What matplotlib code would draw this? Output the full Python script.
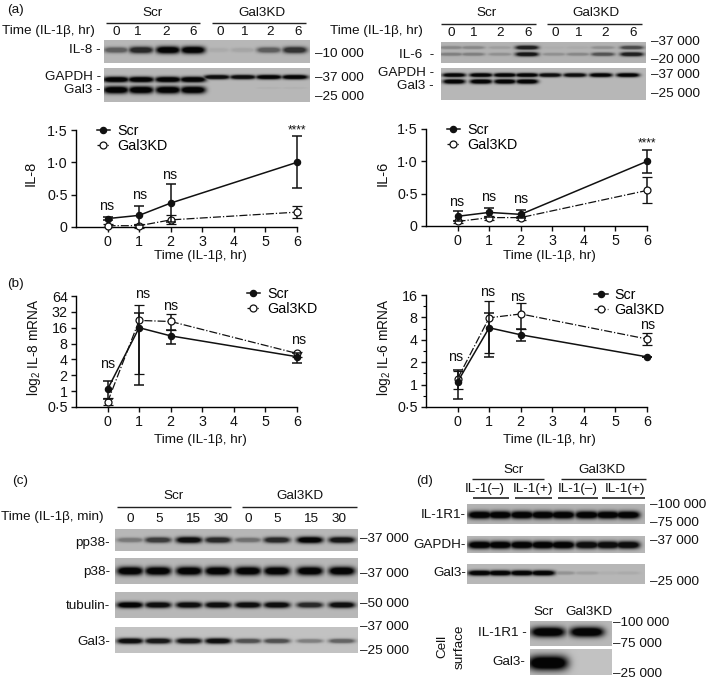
import numpy as np
import matplotlib
matplotlib.use('Agg')
import matplotlib.pyplot as plt
from matplotlib.ticker import FixedLocator, FixedFormatter, NullFormatter

plt.rcParams['font.family'] = ['Liberation Sans', 'DejaVu Sans']
plt.rcParams['mathtext.default'] = 'regular'
plt.rcParams['axes.linewidth'] = 1.0

W, H = 709, 682
times = [0, 1, 2, 6]
labels = ['Scr', 'Gal3KD']

# densitometry, panel a
il8_scr = [0.13, 0.18, 0.37, 1.0]
il8_scr_err = [0.02, 0.15, 0.30, 0.40]
il8_kd = [0.02, 0.02, 0.11, 0.23]
il8_kd_err = [0.02, 0.03, 0.07, 0.09]
il6_scr = [0.15, 0.21, 0.18, 1.0]
il6_scr_err = [0.08, 0.07, 0.06, 0.18]
il6_kd = [0.07, 0.13, 0.13, 0.55]
il6_kd_err = [0.03, 0.03, 0.03, 0.20]

# mRNA, panel b (value, lower cap, upper cap)
il8m_scr = [1.09, 16, 11.2, 4.5]
il8m_scr_lo = [0.7, 1.28, 7.8, 3.4]
il8m_scr_hi = [1.53, 30.5, 14.3, 5.3]
il8m_kd = [0.62, 22, 21, 5.2]
il8m_kd_lo = [0.55, 2.1, 14.3, 4.4]
il8m_kd_hi = [0.75, 42.5, 29, 5.5]
il6m_scr = [1.09, 5.8, 4.67, 2.36]
il6m_scr_lo = [0.64, 2.38, 3.9, 2.36]
il6m_scr_hi = [1.55, 9.3, 5.6, 2.36]
il6m_kd = [1.2, 7.9, 8.9, 4.1]
il6m_kd_lo = [0.86, 2.64, 5.6, 3.4]
il6m_kd_hi = [1.5, 13.3, 12.4, 4.9]

# blot band strengths, 0 = nothing, 1 = black
a1_il8 = [.5, .8, 1, 1, .07, .1, .5, .75]
a1_gapdh = [1, 1, 1, 1, .95, .95, 1, 1]
a1_gal3 = [1, 1, 1, 1, 0, 0, .04, .04]
a2_il6_up = [.25, .25, .12, .85, .03, .05, .2, .6]
a2_il6_lo = [.3, .3, .2, .9, .2, .25, .55, .85]
a2_gapdh = [1, 1, 1, 1, .95, .95, 1, 1]
a2_gal3 = [1, 1, 1, 1, 0, 0, 0, 0]
c_pp38 = [.35, .7, .95, .8, .4, .8, 1, .9]
c_p38 = [1, 1, 1, 1, 1, 1, 1, 1]
c_tubulin = [1, .95, .95, .95, .95, .95, .8, .95]
c_gal3 = [.95, .9, .9, .95, .6, .6, .35, .5]
d_r1 = [1, 1, 1, 1, 1, 1, 1, 1]
d_gapdh = [1, 1, 1, 1, 1, .95, .95, .95]
d_gal3 = [1, 1, 1, 1, .2, .12, .05, .07]
cs_r1 = [1, 1]
cs_gal3 = [1, 0]

fig = plt.figure(figsize=(W / 100, H / 100), dpi=100)
fig.patch.set_facecolor('white')

# overlay in pixel coordinates for the blots and labels
ov = fig.add_axes([0, 0, 1, 1], zorder=5)
ov.set_xlim(0, W)
ov.set_ylim(H, 0)
ov.axis('off')


def blot(x0, y0, x1, y1, rows, bg=0.72):
    nx, ny = int((x1 - x0) * 3), int((y1 - y0) * 3)
    xx, yy = np.meshgrid(np.linspace(x0, x1, nx), np.linspace(y0, y1, ny))
    dark = np.zeros_like(xx)
    for lanes, y, half_w, half_h, vals in rows:
        for cx, s in zip(lanes, vals):
            p = np.exp(-(np.abs((xx - cx) / half_w) ** 4 + ((yy - y) / (half_h * (0.55 + 0.45 * s))) ** 2))
            dark = np.maximum(dark, s * np.clip(p * 1.5, 0, 1))
    img = bg * (1 - 0.97 * dark)
    ov.imshow(img, extent=(x0, x1, y1, y0), cmap='gray', vmin=0, vmax=1,
              aspect='auto', interpolation='bilinear', zorder=1)


def txt(x, y, s, ha='center', size=9.7, **kw):
    ov.text(x, y, s, ha=ha, va='center', fontsize=size, color='#111111', zorder=3, **kw)


def rule(x0, x1, y, lw=1.0):
    ov.plot([x0, x1], [y, y], color='#222222', lw=lw, solid_capstyle='butt', zorder=3)


def chart(x0, x1, ytop, ybot, scr, kd, scr_err, kd_err):
    ax = fig.add_axes([x0 / W, 1 - ybot / H, (x1 - x0) / W, (ybot - ytop) / H])
    ax.patch.set_alpha(0)
    ax.errorbar(times, kd, yerr=kd_err, color='#111111', ls='-.', lw=0.9, marker='o', ms=5,
                mfc='white', mec='#111111', mew=0.9, capsize=3.4, capthick=1.1,
                elinewidth=1.1, clip_on=False, zorder=3, label=labels[1])
    ax.errorbar(times, scr, yerr=scr_err, color='#111111', ls='-', lw=1.1, marker='o', ms=4.4,
                capsize=3.4, capthick=1.1, elinewidth=1.1, clip_on=False, zorder=4, label=labels[0])
    ax.set_xlim(-1, 6)
    ax.set_xticks(range(7))
    for s in ['top', 'right']:
        ax.spines[s].set_visible(False)
    ax.tick_params(axis='both', labelsize=10.3, length=3.5, width=1.0, pad=2.5, colors='#111111')
    ax.tick_params(axis='x', pad=2)
    return ax


def legend(ax, x, y):
    simple = [plt.Line2D([], [], color='#111111', ls='-', lw=1.1, marker='o', ms=4.4),
              plt.Line2D([], [], color='#111111', ls='-.', lw=0.9, marker='o', ms=5, mfc='white', mew=0.9)]
    ax.legend(simple, labels, loc='upper left', bbox_to_anchor=(x / W, 1 - y / H),
              bbox_transform=fig.transFigure, frameon=False, borderpad=0, borderaxespad=0,
              handlelength=0.95, handletextpad=0.5, labelspacing=0.05, fontsize=10.3)


def asym(vals, lo, hi):
    return [np.array(vals) - np.array(lo), np.array(hi) - np.array(vals)]


# panel a charts
ax = chart(76, 297, 130, 227, il8_scr, il8_kd, il8_scr_err, il8_kd_err)
ax.set_ylim(0, 1.5)
ax.set_yticks([0, 0.5, 1, 1.5], ['0', '0·5', '1·0', '1·5'])
legend(ax, 96.5, 124)

ax = chart(426, 647, 129, 226, il6_scr, il6_kd, il6_scr_err, il6_kd_err)
ax.set_ylim(0, 1.5)
ax.set_yticks([0, 0.5, 1, 1.5], ['0', '0·5', '1·0', '1·5'])
legend(ax, 446.5, 123)

# panel b charts
ax = chart(76, 297, 296, 407, il8m_scr, il8m_kd, asym(il8m_scr, il8m_scr_lo, il8m_scr_hi),
           asym(il8m_kd, il8m_kd_lo, il8m_kd_hi))
ax.set_yscale('log', base=2)
ax.set_ylim(0.5, 64)
ax.yaxis.set_major_locator(FixedLocator([0.5, 1, 2, 4, 8, 16, 32, 64]))
ax.yaxis.set_major_formatter(FixedFormatter(['0·5', '1', '2', '4', '8', '16', '32', '64']))
ax.yaxis.set_minor_formatter(NullFormatter())
ax.yaxis.set_minor_locator(FixedLocator([]))
legend(ax, 246.5, 287)

ax = chart(426, 647, 295, 407, il6m_scr, il6m_kd, asym(il6m_scr, il6m_scr_lo, il6m_scr_hi),
           asym(il6m_kd, il6m_kd_lo, il6m_kd_hi))
ax.set_yscale('log', base=2)
ax.set_ylim(0.5, 16)
ax.yaxis.set_major_locator(FixedLocator([0.5, 1, 2, 4, 8, 16]))
ax.yaxis.set_major_formatter(FixedFormatter(['0·5', '1', '2', '4', '8', '16']))
ax.yaxis.set_minor_formatter(NullFormatter())
ax.yaxis.set_minor_locator(FixedLocator([0.71, 1.41, 2.83, 5.66, 11.3]))
ax.tick_params(axis='y', which='minor', length=2, width=0.8)
legend(ax, 594, 288)

# chart labels
for x, y in [(200, 256), (549, 256), (200, 440), (549, 440)]:
    txt(x, y, 'Time (IL-1β, hr)')
txt(31, 173, 'IL-8', rotation=90, size=10.5)
txt(383, 173, 'IL-6', rotation=90, size=10.5)
txt(34, 347, 'log$_2$ IL-8 mRNA', rotation=90, size=9.8)
txt(384, 347, 'log$_2$ IL-6 mRNA', rotation=90, size=9.8)
for x, y in [(107, 206), (140, 195), (170, 175), (457, 202), (489, 197), (521, 199),
             (108, 364), (143, 294), (171, 306), (299, 340), (456, 357), (488, 292), (518, 297), (648, 325)]:
    txt(x, y, 'ns', size=10.3)
txt(297, 130, '****', size=8.5)
txt(647, 143, '****', size=8.5)

# panel letters
txt(7, 10, '(a)', ha='left')
txt(7, 284, '(b)', ha='left')
txt(12, 481, '(c)', ha='left')
txt(416, 481, '(d)', ha='left')

# panel a left blots
lanes = [116, 141, 168, 193, 217, 243, 269, 295]
blot(104, 40, 310, 63, [(lanes, 50, 12, 3.6, a1_il8)])
blot(104, 68, 310, 102, [(lanes[:4], 79.5, 13, 2.8, a1_gapdh[:4]),
                         (lanes[4:], 77, 13, 2.2, a1_gapdh[4:]),
                         (lanes[:4], 90, 12.5, 3.6, a1_gal3[:4]),
                         (lanes[4:], 88, 12, 1.5, a1_gal3[4:])])
rule(106, 200, 23)
rule(212, 306, 23)
txt(153, 13, 'Scr')
txt(262, 13, 'Gal3KD')
txt(95, 31, 'Time (IL-1β, hr)', ha='right')
for x, s in zip([116, 137, 166, 193, 220, 244, 270, 298], ['0', '1', '2', '6'] * 2):
    txt(x, 32, s)
txt(101, 50, 'IL-8 -', ha='right')
txt(101, 77, 'GAPDH -', ha='right')
txt(101, 90, 'Gal3 -', ha='right')
txt(315, 54, '–10 000', ha='left')
txt(315, 78, '–37 000', ha='left')
txt(315, 97, '–25 000', ha='left')

# panel a right blots
lanes = [451, 473, 500, 527, 554, 578, 603, 632]
blot(441, 42, 646, 63, [(lanes, 47.5, 11.5, 2.2, a2_il6_up), (lanes, 54.3, 11.5, 2.2, a2_il6_lo)], bg=0.7)
lanes = [454, 481, 505, 527, 550, 575, 601, 628]
blot(441, 68, 646, 100, [(lanes, 75, 11.5, 2.0, a2_gapdh), (lanes[:4], 81.5, 11, 2.3, a2_gal3[:4])])
rule(441, 536, 24)
rule(547, 642, 24)
txt(487, 13, 'Scr')
txt(596, 13, 'Gal3KD')
txt(423, 31, 'Time (IL-1β, hr)', ha='right')
for x, s in zip([451, 473, 500, 528, 555, 578, 605, 633], ['0', '1', '2', '6'] * 2):
    txt(x, 33, s)
txt(434, 55, 'IL-6  -', ha='right')
txt(434, 73, 'GAPDH -', ha='right')
txt(434, 86, 'Gal3 -', ha='right')
for y, s in [(42, '–37 000'), (60, '–20 000'), (75, '–37 000'), (94, '–25 000')]:
    txt(651, y, s, ha='left')

# panel c blots
lanes = [130, 158, 189, 218, 248, 277, 310, 342]
blot(115, 529, 358, 551, [(lanes, 540, 13, 3.2, c_pp38)])
blot(115, 558, 358, 584, [(lanes, 571, 13, 4.2, c_p38)])
blot(115, 592, 358, 618, [(lanes, 605, 13, 3.0, c_tubulin)])
blot(115, 627, 358, 653, [(lanes, 641, 13, 2.8, c_gal3)], bg=0.76)
rule(117, 231, 507)
rule(242, 357, 507)
txt(174, 496, 'Scr')
txt(300, 496, 'Gal3KD')
txt(104, 517, 'Time (IL-1β, min)', ha='right')
for x, s in zip([130, 159, 193, 221, 248, 277, 311, 339], ['0', '5', '15', '30'] * 2):
    txt(x, 519, s)
for y, s in [(543, 'pp38-'), (572, 'p38-'), (606, 'tubulin-'), (642, 'Gal3-')]:
    txt(110, y, s, ha='right')
for y, s in [(539, '–37 000'), (574, '–37 000'), (604, '–50 000'), (627, '–37 000'), (651, '–25 000')]:
    txt(360, y, s, ha='left')

# panel d blots
lanes = [480, 500, 522, 543, 563, 587, 608, 628]
blot(467, 504, 645, 524, [(lanes, 515, 12, 3.8, d_r1)], bg=0.7)
blot(467, 536, 645, 553, [(lanes, 545, 12, 3.8, d_gapdh)], bg=0.72)
blot(467, 564, 645, 584, [(lanes, 573, 12, 2.6, d_gal3)], bg=0.72)
rule(472, 544, 479)
rule(561, 646, 479)
for a, b in [(473, 509), (515, 552), (558, 598), (602, 645)]:
    rule(a, b, 498, lw=1.2)
txt(514, 470, 'Scr')
txt(602, 470, 'Gal3KD')
for x, s in zip([485, 533, 578, 625], ['IL-1(–)', 'IL-1(+)', 'IL-1(–)', 'IL-1(+)']):
    txt(x, 489, s)
for y, s in [(515, 'IL-1R1-'), (545, 'GAPDH-'), (573, 'Gal3-')]:
    txt(466, y, s, ha='right')
for y, s in [(505, '–100 000'), (523, '–75 000'), (541, '–37 000'), (582, '–25 000')]:
    txt(650, y, s, ha='left')

# cell surface blots
blot(530, 621, 612, 646, [([548, 587], 632, 17, 5, cs_r1)], bg=0.72)
blot(530, 649, 612, 675, [([548, 587], 663, 20, 7.5, cs_gal3)], bg=0.76)
txt(544, 612, 'Scr')
txt(589, 612, 'Gal3KD')
txt(527, 633, 'IL-1R1 -', ha='right')
txt(525, 662, 'Gal3-', ha='right')
for y, s in [(623, '–100 000'), (644, '–75 000'), (674, '–25 000')]:
    txt(613, y, s, ha='left')
txt(442, 646, 'Cell', rotation=90)
txt(460, 647, 'surface', rotation=90)

ov.set_xlim(0, W)
ov.set_ylim(H, 0)
fig.savefig('out.png', dpi=100)
